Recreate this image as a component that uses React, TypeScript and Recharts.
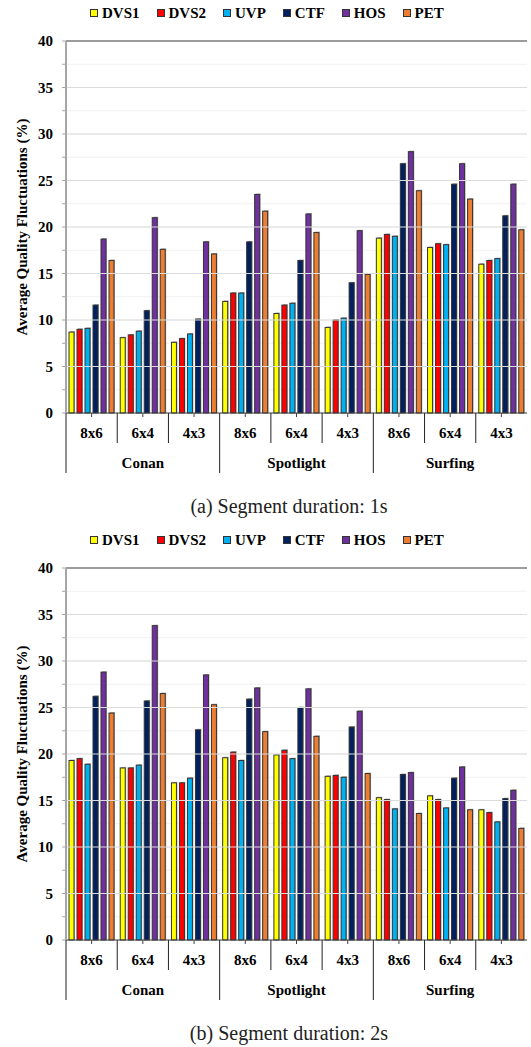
import React from "react";
import {
  BarChart,
  Bar,
  XAxis,
  YAxis,
  CartesianGrid,
  ReferenceLine,
} from "recharts";

const videos = ["Conan", "Spotlight", "Surfing"];
const resolutions = ["8x6", "6x4", "4x3"];
const seriesNames = ["DVS1", "DVS2", "UVP", "CTF", "HOS", "PET"];
const seriesColors = ["#ffff00", "#ff0000", "#00b0f0", "#002060", "#7030a0", "#ed7d31"];

const yTicks = [0, 2.5, 5, 7.5, 10, 12.5, 15, 17.5, 20, 22.5, 25, 27.5, 30, 32.5, 35, 37.5, 40];
const yMajor = [5, 10, 15, 20, 25, 30, 35];

// segment duration 1s (one entry per video x tiling)
const dvs1_1s = [8.7, 8.1, 7.6, 12.0, 10.7, 9.2, 18.8, 17.8, 16.0];
const dvs2_1s = [9.0, 8.4, 8.0, 12.9, 11.6, 10.0, 19.2, 18.2, 16.4];
const uvp_1s = [9.1, 8.8, 8.5, 12.9, 11.8, 10.2, 19.0, 18.1, 16.6];
const ctf_1s = [11.6, 11.0, 10.1, 18.4, 16.4, 14.0, 26.8, 24.6, 21.2];
const hos_1s = [18.7, 21.0, 18.4, 23.5, 21.4, 19.6, 28.1, 26.8, 24.6];
const pet_1s = [16.4, 17.6, 17.1, 21.7, 19.4, 14.9, 23.9, 23.0, 19.7];

// segment duration 2s
const dvs1_2s = [19.3, 18.5, 16.9, 19.6, 19.9, 17.6, 15.3, 15.5, 14.0];
const dvs2_2s = [19.5, 18.5, 16.9, 20.2, 20.4, 17.7, 15.1, 15.1, 13.7];
const uvp_2s = [18.9, 18.8, 17.4, 19.3, 19.5, 17.5, 14.1, 14.2, 12.7];
const ctf_2s = [26.2, 25.7, 22.6, 25.9, 25.0, 22.9, 17.8, 17.4, 15.2];
const hos_2s = [28.8, 33.8, 28.5, 27.1, 27.0, 24.6, 18.0, 18.6, 16.1];
const pet_2s = [24.4, 26.5, 25.3, 22.4, 21.9, 17.9, 13.6, 14.0, 12.0];

const SERIF = "'Liberation Serif', 'Times New Roman', serif";

function buildRows(values: number[][]) {
  const rows: any[] = [];
  videos.forEach((v, vi) => {
    resolutions.forEach((r, ri) => {
      const i = vi * 3 + ri;
      const row: any = { key: `${v} ${r}`, video: v, res: r };
      seriesNames.forEach((s, si) => {
        row[s] = values[si][i];
      });
      rows.push(row);
    });
  });
  return rows;
}

const rows1s = buildRows([dvs1_1s, dvs2_1s, uvp_1s, ctf_1s, hos_1s, pet_1s]);
const rows2s = buildRows([dvs1_2s, dvs2_2s, uvp_2s, ctf_2s, hos_2s, pet_2s]);

function CategoryTick(props: any) {
  const { x, y, payload, index } = props;
  const half = payload?.offset ?? 25.6;
  const top = y - 4;
  const first = index % 3 === 0;
  return (
    <g>
      <line
        x1={x - half}
        x2={x - half}
        y1={top}
        y2={top + (first ? 60 : 30)}
        stroke="#222"
        strokeWidth={1}
      />
      <text
        x={x}
        y={top + 25}
        textAnchor="middle"
        fontFamily={SERIF}
        fontWeight="bold"
        fontSize={15}
        fill="#000"
      >
        {resolutions[index % 3]}
      </text>
      {index % 3 === 1 && (
        <text
          x={x}
          y={top + 55}
          textAnchor="middle"
          fontFamily={SERIF}
          fontWeight="bold"
          fontSize={15}
          fill="#000"
        >
          {videos[Math.floor(index / 3)]}
        </text>
      )}
    </g>
  );
}

// bar with a faint excel-like shadow
function ShadowBar(props: any) {
  const { x, y, width, height, fill } = props;
  if (!height || height <= 0) return null;
  return (
    <g>
      <rect x={x + 1} y={y - 1} width={width} height={height + 1} fill="#b0b0b0" />
      <rect x={x} y={y} width={width} height={height} fill={fill} stroke="#333" strokeWidth={1} />
    </g>
  );
}

function YTitle(props: any) {
  const { viewBox } = props;
  const cy = viewBox.y + viewBox.height / 2;
  return (
    <text
      x={22}
      y={cy}
      transform={`rotate(-90 22 ${cy})`}
      textAnchor="middle"
      dominantBaseline="central"
      fontFamily={SERIF}
      fontWeight="bold"
      fontSize={15}
      fill="#000"
    >
      Average Quality Fluctuations (%)
    </text>
  );
}

function LegendRow() {
  return (
    <div
      style={{
        position: "absolute",
        top: 4,
        left: 90,
        display: "flex",
        alignItems: "center",
        fontFamily: SERIF,
        fontWeight: "bold",
        fontSize: 15,
        lineHeight: "18px",
        color: "#000",
        whiteSpace: "nowrap",
      }}
    >
      {seriesNames.map((s, i) => (
        <div key={s} style={{ display: "flex", alignItems: "center", marginRight: 17 }}>
          <span
            style={{
              display: "inline-block",
              width: 6,
              height: 6,
              background: seriesColors[i],
              border: "1px solid #333",
              marginRight: 4,
            }}
          />
          <span>{s}</span>
        </div>
      ))}
    </div>
  );
}

function Panel({ rows, caption, top }: { rows: any[]; caption: string; top: number }) {
  return (
    <div style={{ position: "absolute", left: 0, top, width: 531, height: 527 }}>
      <LegendRow />
      <BarChart
        width={531}
        height={480}
        data={rows}
        margin={{ top: 41, right: 4, bottom: 0, left: 0 }}
        barSize={5}
        barGap={3}
      >
        <CartesianGrid vertical={false} stroke="#f1f1f1" />
        {yMajor.map((v) => (
          <ReferenceLine key={v} y={v} stroke="#dcdcdc" strokeWidth={1} />
        ))}
        <ReferenceLine y={40} stroke="#404040" strokeWidth={1} />
        <XAxis
          dataKey="key"
          height={67}
          tickSize={4}
          tickMargin={0}
          interval={0}
          axisLine={{ stroke: "#404040" }}
          tickLine={{ stroke: "#404040" }}
          tick={<CategoryTick />}
        />
        <YAxis
          domain={[0, 40]}
          ticks={yTicks}
          interval={0}
          width={66}
          tickSize={4}
          tickMargin={9}
          axisLine={{ stroke: "#a6a6a6", strokeWidth: 2 }}
          tickLine={{ stroke: "#a6a6a6" }}
          tickFormatter={(v: number) => (v % 5 === 0 ? String(v) : "")}
          tick={{ fill: "#000", fontFamily: SERIF, fontWeight: "bold", fontSize: 15 }}
          label={<YTitle />}
        />
        {seriesNames.map((s, i) => (
          <Bar
            key={s}
            dataKey={s}
            fill={seriesColors[i]}
            shape={<ShadowBar />}
            isAnimationActive={false}
          />
        ))}
      </BarChart>
      <div
        style={{
          position: "absolute",
          top: 493,
          left: 0,
          width: 578,
          textAlign: "center",
          fontFamily: SERIF,
          fontSize: 20,
          lineHeight: "26px",
          color: "#222",
        }}
      >
        {caption}
      </div>
    </div>
  );
}

export default function App() {
  return (
    <div
      style={{
        position: "absolute",
        left: 0,
        top: 0,
        width: 531,
        height: 1047,
        background: "#fff",
        overflow: "hidden",
      }}
    >
      <Panel rows={rows1s} caption="(a) Segment duration: 1s" top={0} />
      <Panel rows={rows2s} caption="(b) Segment duration: 2s" top={527} />
    </div>
  );
}
